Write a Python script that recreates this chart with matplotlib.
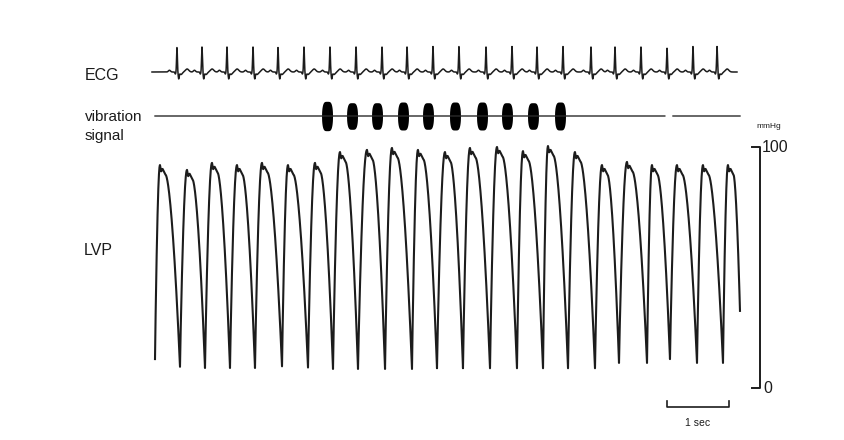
import numpy as np
import matplotlib
matplotlib.use("Agg")
import matplotlib.pyplot as plt

# ---------------- data (time in seconds) ----------------
lvp_peak_t = [0.086, 0.552, 0.983, 1.414, 1.845, 2.293, 2.759, 3.190, 3.655, 4.086,
              4.534, 5.000, 5.431, 5.897, 6.345, 6.776, 7.241, 7.707, 8.138, 8.569,
              9.000, 9.448, 9.879]
lvp_peak_mmHg = [92.5, 90.5, 93.4, 92.5, 93.4, 92.5, 93.4, 97.9, 98.8, 99.6,
                 98.8, 97.9, 99.6, 100.0, 98.3, 100.4, 97.9, 92.5, 93.8, 92.5,
                 92.5, 92.5, 92.5]
lvp_trough_t = [0.0, 0.431, 0.862, 1.293, 1.724, 2.190, 2.638, 3.069, 3.500, 3.966,
                4.431, 4.862, 5.310, 5.776, 6.241, 6.690, 7.121, 7.586, 8.000, 8.483,
                8.879, 9.345, 9.793, 10.086]
lvp_trough_mmHg = [12.0, 8.8, 8.3, 8.3, 8.3, 9.0, 8.5, 7.9, 7.9, 7.9,
                   7.9, 8.2, 8.2, 8.2, 8.2, 8.2, 8.2, 8.2, 10.4, 10.4,
                   12.0, 10.4, 10.4, 32.0]

ecg_r_t = [0.379, 0.810, 1.241, 1.690, 2.121, 2.569, 3.017, 3.466, 3.914, 4.345,
           4.793, 5.241, 5.707, 6.155, 6.586, 7.034, 7.517, 7.931, 8.379, 8.828,
           9.276, 9.690]
ecg_r_mV = [0.98, 1.0, 1.0, 1.0, 0.98, 1.0, 1.0, 1.0, 1.0, 1.0,
            1.02, 1.02, 1.0, 1.02, 1.0, 1.02, 1.0, 1.0, 1.0, 0.95,
            1.02, 1.02]
ecg_span = [-0.052, 10.034]

vib_burst_t = [2.966, 3.397, 3.828, 4.276, 4.707, 5.172, 5.638, 6.069, 6.517, 6.983]
vib_burst_amp = [1.05, 0.95, 0.95, 1.0, 0.95, 1.0, 1.0, 0.95, 0.95, 1.0]
vib_span = [0.0, 10.086]
vib_gap = [8.79, 8.93]

scale_mmHg = [0, 100]
time_bar_s = [8.828, 9.897]

# ---------------- figure ----------------
W, H = 845, 440
fig = plt.figure(figsize=(W / 100, H / 100), dpi=100)
fig.patch.set_facecolor("white")

PX_PER_S = 58.0
X0 = 155.0
xlim = (-X0 / PX_PER_S, (W - X0) / PX_PER_S)
INK = "#1c1c1c"


def make_axes(base_px, px_per_unit, zero_val=0.0):
    ax = fig.add_axes([0, 0, 1, 1])
    ax.set_xlim(*xlim)
    ax.set_ylim(zero_val - (H - base_px) / px_per_unit, zero_val + base_px / px_per_unit)
    ax.axis("off")
    ax.patch.set_alpha(0)
    return ax


# ---------------- LVP ----------------
ax_lvp = make_axes(388.0, 2.41)
tt, vv = [], []
for i, (tp, P) in enumerate(zip(lvp_peak_t, lvp_peak_mmHg)):
    t0, T0 = lvp_trough_t[i], lvp_trough_mmHg[i]
    t1, T1 = lvp_trough_t[i + 1], lvp_trough_mmHg[i + 1]
    s = np.linspace(0, 1, 40)
    tt.append(t0 + (tp - t0) * s)
    vv.append(T0 + (P - T0) * np.sin(np.pi / 2 * s) ** 0.9)
    pt = np.array([0.0, 0.02, 0.045, 0.095])
    pv = np.array([0.0, -2.6, -1.6, -4.0])
    tt.append(tp + pt[1:])
    vv.append(P + pv[1:])
    tf0 = tp + pt[-1]
    Pe = P + pv[-1]
    s = np.linspace(0, 1, 60)[1:]
    tt.append(tf0 + (t1 - tf0) * s)
    vv.append(T1 + (Pe - T1) * (1 - s ** 1.7))
lvp_t = np.concatenate(tt)
lvp_v = np.concatenate(vv)
ax_lvp.plot(lvp_t, lvp_v, color=INK, lw=1.5, solid_joinstyle="round")

# pressure scale bar
sx = (760 - X0) / PX_PER_S
tick = 8 / PX_PER_S
ax_lvp.plot([sx - tick, sx, sx, sx - tick],
            [scale_mmHg[1], scale_mmHg[1], scale_mmHg[0], scale_mmHg[0]],
            color=INK, lw=1.4)
ax_lvp.text(sx + 0.03, scale_mmHg[1], "100", fontsize=11.5, family="Liberation Sans",
            va="center", ha="left", color=INK)
ax_lvp.text(sx + 0.05, scale_mmHg[0], "0", fontsize=11.5, family="Liberation Sans",
            va="center", ha="left", color=INK)
ax_lvp.text(sx - 0.06, 108.5, "mmHg", fontsize=6, family="Liberation Sans",
            va="center", ha="left", color=INK)

# time bar
yb = -7.9
yt = -5.2
ax_lvp.plot([time_bar_s[0], time_bar_s[0], time_bar_s[1], time_bar_s[1]],
            [yt, yb, yb, yt], color=INK, lw=1.2)
ax_lvp.text((time_bar_s[0] + time_bar_s[1]) / 2, -14.5, "1 sec", fontsize=7.5,
            family="Liberation Sans", ha="center", va="center", color=INK)

# ---------------- ECG ----------------
ax_ecg = make_axes(72.0, 25.0)
et = np.linspace(ecg_span[0], ecg_span[1], 9000)
ecg = np.zeros_like(et)
for r, a in zip(ecg_r_t, ecg_r_mV):
    ecg += -0.08 * np.exp(-((et - r + 0.028) / 0.010) ** 2)
    ecg += a * np.exp(-((et - r) / 0.010) ** 2)
    ecg += -0.26 * np.exp(-((et - r - 0.030) / 0.012) ** 2)
    ecg += -0.10 * np.exp(-((et - r - 0.070) / 0.030) ** 2)
    ecg += 0.12 * np.exp(-((et - r - 0.175) / 0.040) ** 2)
    ecg += 0.07 * np.exp(-((et - r + 0.130) / 0.025) ** 2)
ax_ecg.plot(et, ecg, color=INK, lw=1.1)

# ---------------- vibration ----------------
ax_vib = make_axes(116.0, 14.0)
vt = np.linspace(vib_span[0], vib_span[1], 6000)
vbase = np.zeros_like(vt)
vbase[(vt > vib_gap[0]) & (vt < vib_gap[1])] = np.nan
ax_vib.plot(vt, vbase, color="#2a2a2a", lw=1.0)
hw = 0.095
for c, a in zip(vib_burst_t, vib_burst_amp):
    bt = np.linspace(c - hw, c + hw, 80)
    u = np.abs((bt - c) / hw)
    env = a * np.sqrt(np.clip(1 - u ** 4, 0, None))
    ax_vib.fill_between(bt, -env, env, color="black", lw=0)

# ---------------- labels ----------------
lab = dict(family="Liberation Sans", color=INK, ha="left", va="center")
fig.text(85 / W, 1 - 76 / H, "ECG", fontsize=11.5, **lab)
fig.text(85 / W, 1 - 117 / H, "vibration", fontsize=11, **lab)
fig.text(85 / W, 1 - 136 / H, "signal", fontsize=11, **lab)
fig.text(84 / W, 1 - 250 / H, "LVP", fontsize=11.5, **lab)

fig.savefig("out.png", dpi=100, facecolor="white")
